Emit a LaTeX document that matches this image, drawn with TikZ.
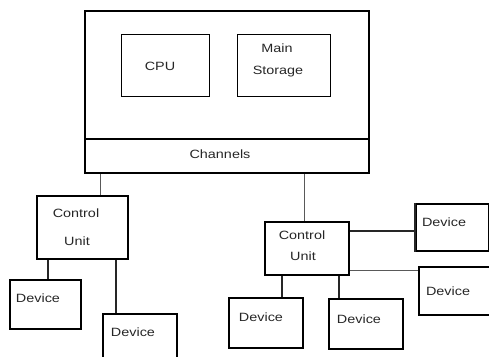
\documentclass[tikz,border=0pt]{standalone}
\usepackage{fontspec}
\setmainfont{Liberation Sans}[FakeStretch=1.2]
\usetikzlibrary{calc}
\begin{document}
\begin{tikzpicture}[x=1pt,y=-1pt,
  box/.style={draw, line width=1.5pt, inner sep=0pt, anchor=north west},
  lbl/.style={font=\fontsize{12}{14}\selectfont, inner sep=0pt, text=black!85},
  thinline/.style={line width=0.9pt, draw=black!65},
  heavy/.style={line width=2.4pt, draw=black!85}]
\useasboundingbox (0,0) rectangle (489,356);
% boxes
\node[box, minimum width=284pt, minimum height=128pt] (host) at (84,10) {};
\node[box, minimum width=284pt, minimum height=34pt] (chan) at (84,138) {};
\node[box, line width=1.2pt, minimum width=88pt, minimum height=62pt] (cpu) at (121,34) {};
\node[box, line width=1.2pt, minimum width=93pt, minimum height=62pt] (ms) at (237,34) {};
\node[box, minimum width=91pt, minimum height=63pt] (lcu) at (36,195) {};
\node[box, minimum width=71pt, minimum height=49pt] (ld1) at (9,279) {};
\node[box, minimum width=74pt, minimum height=52pt] (ld2) at (102,313) {};
\node[box, minimum width=84pt, minimum height=53pt] (rcu) at (264,221) {};
\node[box, minimum width=73pt, minimum height=47pt] (rd1) at (415,203) {};
\node[box, minimum width=72pt, minimum height=48pt] (rd2) at (418,266) {};
\node[box, minimum width=74pt, minimum height=50pt] (rd3) at (228,297) {};
\node[box, minimum width=74pt, minimum height=50pt] (rd4) at (328,298) {};
\draw[heavy] (rd1.north west) -- (rd1.south west);
% texts
\node[lbl] (tcpu) at (160,66) {CPU};
\node[lbl] (tmain) at (277,48) {Main};
\node[lbl] (tstor) at (278,72) {Storage};
\node[lbl] (tchan) at (220,154) {Channels};
\node[lbl] (tlc1) at (76,213) {Control};
\node[lbl] (tlc2) at (77,241) {Unit};
\node[lbl] (tld1) at (38,298) {Device};
\node[lbl] (tld2) at (133,332) {Device};
\node[lbl] (trc1) at (302,235) {Control};
\node[lbl] (trc2) at (303,256) {Unit};
\node[lbl] (trd1) at (444,222) {Device};
\node[lbl] (trd2) at (448,291) {Device};
\node[lbl] (trd3) at (261,317) {Device};
\node[lbl] (trd4) at (359,319) {Device};
% connector anchor points
\coordinate (pl) at ($(lcu.north west)+(64,0)$);
\coordinate (pr) at ($(rcu.north west)+(40,0)$);
\coordinate (p1) at ($(ld1.north west)+(39,0)$);
\coordinate (p2) at ($(ld2.north west)+(14,0)$);
\coordinate (p3) at ($(rd1.north west)+(0,28)$);
\coordinate (p4) at ($(rd2.north west)+(0,4)$);
\coordinate (p5) at ($(rd3.north west)+(54,0)$);
\coordinate (p6) at ($(rd4.north west)+(11,0)$);
% connectors
\draw[thinline] (pl) -- (pl |- chan.south);
\draw[thinline] (pr) -- (pr |- chan.south);
\draw[heavy] (p1) -- (p1 |- lcu.south);
\draw[heavy] (p2) -- (p2 |- lcu.south);
\draw[heavy] (p3) -- (p3 -| rcu.east);
\draw[thinline] (p4) -- (p4 -| rcu.east);
\draw[heavy] (p5) -- (p5 |- rcu.south);
\draw[heavy] (p6) -- (p6 |- rcu.south);
\end{tikzpicture}
\end{document}
